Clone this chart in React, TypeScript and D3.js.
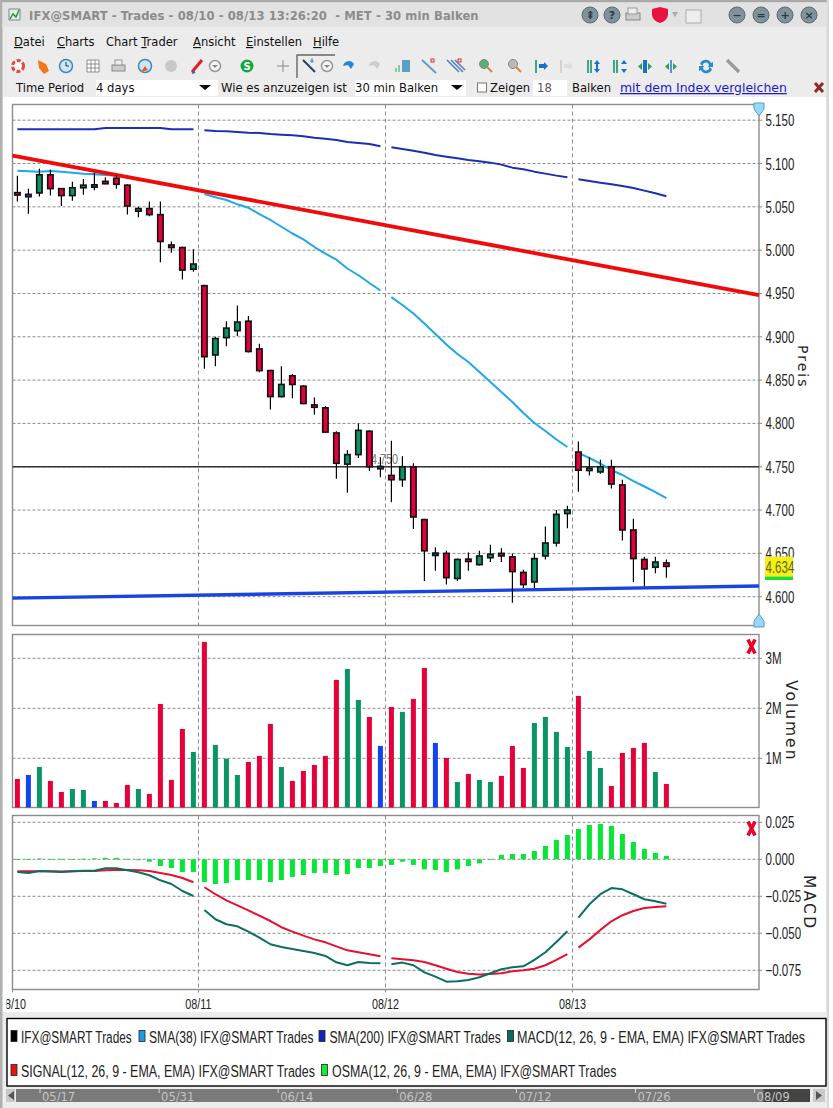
import React from "react";
import * as d3 from "d3";

// ---------- data ----------
const opens = [5.066,5.063,5.066,5.087,5.071,5.063,5.072,5.074,5.079,5.083,5.075,5.045,5.048,5.041,5.006,5.003,4.978,4.959,4.879,4.899,4.907,4.918,4.886,4.861,4.831,4.855,4.843,4.821,4.818,4.789,4.753,4.764,4.791,4.749,4.740,4.735,4.750,4.689,4.649,4.650,4.621,4.643,4.637,4.645,4.650,4.646,4.628,4.617,4.647,4.662,4.696,4.767,4.746,4.744,4.750,4.729,4.677,4.643,4.634,4.639];
const closes = [5.064,5.063,5.087,5.071,5.063,5.072,5.075,5.074,5.077,5.076,5.051,5.048,5.041,5.010,5.003,4.977,4.984,4.877,4.898,4.910,4.917,4.883,4.861,4.831,4.845,4.845,4.823,4.819,4.790,4.754,4.764,4.792,4.750,4.749,4.735,4.750,4.692,4.653,4.649,4.622,4.643,4.641,4.647,4.649,4.647,4.629,4.614,4.644,4.662,4.695,4.700,4.746,4.748,4.750,4.730,4.677,4.644,4.632,4.640,4.635];
const highs = [5.086,5.071,5.094,5.093,5.071,5.079,5.082,5.089,5.084,5.087,5.076,5.050,5.056,5.056,5.010,5.004,5.001,4.960,4.900,4.918,4.936,4.924,4.892,4.862,4.866,4.857,4.844,4.830,4.820,4.791,4.769,4.800,4.792,4.761,4.780,4.762,4.754,4.690,4.657,4.653,4.644,4.651,4.653,4.660,4.656,4.650,4.631,4.650,4.681,4.700,4.705,4.779,4.761,4.758,4.758,4.735,4.690,4.646,4.646,4.643];
const lows = [5.056,5.042,5.062,5.063,5.051,5.057,5.064,5.069,5.076,5.071,5.041,5.038,5.039,4.986,4.997,4.966,4.975,4.863,4.866,4.889,4.901,4.882,4.859,4.816,4.830,4.829,4.822,4.810,4.789,4.736,4.720,4.760,4.745,4.738,4.709,4.727,4.678,4.618,4.630,4.614,4.618,4.630,4.636,4.640,4.640,4.593,4.610,4.610,4.643,4.658,4.679,4.721,4.740,4.742,4.725,4.665,4.617,4.612,4.627,4.622];
const volumes = [.587,.667,.827,.547,.327,.387,.367,.147,.147,.107,.467,.387,.287,2.087,.567,1.587,1.127,3.327,1.267,.993,.667,.927,1.047,1.687,.827,.547,.747,.867,1.047,2.567,2.787,2.167,1.827,1.247,2.027,1.927,2.187,2.807,1.307,1.007,.527,.687,.567,.527,.647,1.247,.807,1.707,1.827,1.527,1.227,2.247,1.147,.807,.447,1.107,1.207,1.307,.727,.487];
const sma38 = [5.0917,5.0910,5.0905,5.0913,5.0905,5.0894,5.0882,5.0875,5.0867,5.0859,5.0844,5.0821,5.0798,5.0775,5.0752,5.0729,5.0706,5.0648,5.0610,5.0579,5.0529,5.0489,5.0417,5.0348,5.0270,5.0192,5.0125,5.0036,4.9959,4.9890,4.9788,4.9710,4.9621,4.9534,4.9457,4.9367,4.9269,4.9153,4.9032,4.8911,4.8801,4.8709,4.8594,4.8478,4.8363,4.8247,4.8120,4.8005,4.7912,4.7814,4.7728,4.7659,4.7601,4.7537,4.7462,4.7405,4.7335,4.7272,4.7208,4.7139];
const sma200 = [5.1394,5.1394,5.1394,5.1394,5.1394,5.1394,5.1394,5.1394,5.1410,5.1410,5.1410,5.1410,5.1410,5.1410,5.1394,5.1394,5.1394,5.1383,5.1375,5.1371,5.1364,5.1356,5.1352,5.134,5.1333,5.1325,5.1314,5.1298,5.1287,5.1271,5.1248,5.1237,5.1225,5.1198,5.1187,5.1167,5.1148,5.1125,5.1098,5.1079,5.106,5.1041,5.1025,5.101,5.0987,5.0952,5.0933,5.0906,5.0883,5.086,5.0841,5.0817,5.0798,5.0779,5.076,5.0740,5.0717,5.0687,5.0656,5.0621];
const macd = [-.0086,-.0092,-.0079,-.0083,-.0086,-.0081,-.0077,-.0077,-.0061,-.0061,-.0074,-.0088,-.0108,-.0142,-.0167,-.0214,-.0248,-.0342,-.0405,-.0439,-.0453,-.0489,-.0529,-.0574,-.0592,-.0606,-.0619,-.0633,-.0653,-.0696,-.0716,-.0694,-.0700,-.0703,-.0709,-.0698,-.0716,-.0764,-.0793,-.0827,-.0824,-.0815,-.0797,-.0770,-.0743,-.0730,-.0723,-.0680,-.0628,-.0559,-.0486,-.0394,-.0304,-.0236,-.0194,-.0203,-.0236,-.0270,-.0284,-.0300];
const signal = [-.0081,-.0081,-.0081,-.0081,-.0083,-.0081,-.0079,-.0079,-.0074,-.0072,-.0072,-.0074,-.0079,-.0092,-.0106,-.0126,-.0155,-.0189,-.0236,-.0277,-.0311,-.0345,-.0381,-.0417,-.0459,-.0489,-.0516,-.0541,-.0561,-.0588,-.0615,-.0628,-.0642,-.0655,-.0669,-.0676,-.0682,-.0694,-.0716,-.0739,-.0761,-.0773,-.0779,-.0775,-.0770,-.0757,-.0750,-.0739,-.0716,-.0680,-.0640,-.0597,-.0541,-.0477,-.0419,-.0378,-.0349,-.0329,-.0322,-.0318];
const osma = [.0002,.0002,.0005,.0001,.0003,.0001,.0004,.0006,.001,.001,.0001,-.0006,-.0016,-.0045,-.0059,-.0086,-.0086,-.0153,-.0167,-.016,-.014,-.014,-.014,-.0153,-.014,-.0119,-.0106,-.0092,-.0092,-.0106,-.0099,-.0059,-.0059,-.0045,-.0038,-.0016,-.0038,-.0068,-.0072,-.0086,-.0068,-.0045,-.0027,.0001,.0029,.0036,.0036,.0056,.009,.0131,.0164,.0205,.0232,.0239,.0225,.0171,.0117,.007,.0043,.0023];
const dayStarts = [0, 17, 34, 51];
const dayLabels = ["08/10", "08/11", "08/12", "08/13"];
const priceTicks = [5.15, 5.1, 5.05, 5.0, 4.95, 4.9, 4.85, 4.8, 4.75, 4.7, 4.65, 4.6];
const volTicks = [1, 2, 3];
const macdTicks = [0.025, 0, -0.025, -0.05, -0.075];
const redTrend = [5.1092, 4.9482];
const blueTrend = [4.5983, 4.6123];
const hLine = 4.75;
const lastPrice = 4.634;
const legendLabels = ["IFX@SMART Trades", "SMA(38) IFX@SMART Trades", "SMA(200) IFX@SMART Trades", "MACD(12, 26, 9 - EMA, EMA) IFX@SMART Trades", "SIGNAL(12, 26, 9 - EMA, EMA) IFX@SMART Trades", "OSMA(12, 26, 9 - EMA, EMA) IFX@SMART Trades"];
const scrollLabels = ["05/17", "05/31", "06/14", "06/28", "07/12", "07/26", "08/09"];

// ---------- layout ----------
const legendColours = ["#000000", "#1e9be8", "#1424c0", "#0a6a5c", "#ee1111", "#11ee33"];
const legendSwatchX = [11, 139, 319, 507.5, 11, 321.5];
const legendTextX = [21, 149, 329.5, 517, 21, 332];
const legendRow = [0, 0, 0, 0, 1, 1];
const legendScale = [0.696, 0.712, 0.713, 0.74, 0.732, 0.73];
const L = 12.5, R = 759;
const P = { t: 104.5, b: 625.5 }, V = { t: 634.5, b: 807.5 }, M = { t: 815.5, b: 989.5 };
const n = opens.length;
const x = d3.scaleLinear().domain([0, n - 1]).range([17.4, 666.4]);
const yP = d3.scaleLinear().domain([4.6, 5.1]).range([596.7, 163.5]);
const yV = d3.scaleLinear().domain([0, 3]).range([808.3, 658.3]);
const yM = d3.scaleLinear().domain([-0.075, 0.025]).range([970.3, 822.3]);
const dayX = dayStarts.map((s, k) => (k === 0 ? L : x(s - 0.54)));
const sans = "'Liberation Sans',sans-serif";
const ui = "'DejaVu Sans',sans-serif";
const RED = "#e6003a", GREEN = "#0b9464", BLUE = "#1144ee";
const colour = (i: number) => (closes[i] > opens[i] ? GREEN : closes[i] < opens[i] ? RED : BLUE);
const grid = "#8a8a8a";

function segments(vals: number[], y: (v: number) => number) {
  return dayStarts.map((s, k) => {
    const e = k + 1 < dayStarts.length ? dayStarts[k + 1] : n;
    const l = d3.line<number>().x((i) => x(i)).y((i) => y(vals[i]));
    return l(d3.range(s, e)) as string;
  });
}

const Seg = ({ vals, y, color, w = 2 }: any) => (
  <g fill="none" stroke={color} strokeWidth={w} strokeLinejoin="round">
    {segments(vals, y).map((d, i) => <path key={i} d={d} />)}
  </g>
);

const N = ({ x: tx, y: ty, size = 16, sx = 0.72, fill = "#222", anchor = "start", children }: any) => (
  <text transform={`translate(${tx},${ty}) scale(${sx},1)`} fontFamily={sans} fontSize={size} fill={fill} textAnchor={anchor}>{children}</text>
);

const RedX = ({ cx, cy }: { cx: number; cy: number }) => (
  <path d={`M${cx - 3.5},${cy - 7}L${cx + 3.5},${cy + 7}M${cx + 3.5},${cy - 7}L${cx - 3.5},${cy + 7}`} stroke="#e8002a" strokeWidth={3.6} />
);

const Panel = ({ t, b, ticks, y, fmt }: any) => (
  <g>
    {ticks.map((v: number) => (
      <g key={v}>
        <line x1={L} x2={R} y1={y(v)} y2={y(v)} stroke={grid} strokeWidth={1} strokeDasharray="3 2" />
        <line x1={R} x2={R + 3} y1={y(v)} y2={y(v)} stroke={grid} />
        <N x={765.5} y={y(v) + 6}>{fmt(v)}</N>
      </g>
    ))}
    {dayX.slice(1).map((dx, i) => (
      <line key={i} x1={dx} x2={dx} y1={t} y2={b} stroke={grid} strokeWidth={1} strokeDasharray="4 3" />
    ))}
    <rect x={L} y={t} width={R - L} height={b - t} fill="none" stroke="#8c8c8c" strokeWidth={1.4} />
  </g>
);

const Shield = ({ cx, top, down }: any) => (
  <path d={down
    ? `M${cx - 5},${top}h10v6l-5,7l-5,-7z`
    : `M${cx},${top}l5,7v6h-10v-6z`} fill="#9bd6f5" stroke="#4f9fd0" strokeWidth={1} />
);

const circleBtn = (cx: number, cy: number, g: string) => (
  <g key={cx}>
    <circle cx={cx} cy={cy} r={8} fill="#7f939c" stroke="#5c6b72" />
    <text x={cx} y={cy + 4} textAnchor="middle" fontFamily={ui} fontWeight="bold" fontSize={11} fill="#2f3a40">{g}</text>
  </g>
);

export default function App() {
  return (
    <svg width={833} height={1108} viewBox="0 0 833 1108" style={{ position: "absolute", left: 0, top: 0, display: "block" }}>
      <rect width={833} height={1108} fill="#ececec" />
      <rect x={0} y={0} width={833} height={2.5} fill="#a8a8a8" />
      <rect x={0} y={0} width={2.5} height={1108} fill="#b0b0b0" />
      <rect x={829} y={0} width={4} height={1108} fill="#ffffff" />
      <rect x={826.5} y={0} width={2.5} height={1108} fill="#d8d8d8" />
      <rect x={2.5} y={2.5} width={824} height={24} fill="#e2e2e2" />
      {/* title bar */}
      <path d="M9,20L9,9L20,9L20,20Z" fill="#dff0df" stroke="#789" />
      <path d="M10,19l3,-5l3,3l3,-7" fill="none" stroke="#2a8a4a" strokeWidth={1.4} />
      <text x={29} y={19.5} fontFamily={ui} fontWeight="bold" fontSize={11.6} letterSpacing={0.08} fill="#8c8c8c" style={{ whiteSpace: "pre" }}>{"IFX@SMART - Trades - 08/10 - 08/13 13:26:20  - MET - 30 min Balken"}</text>
      {circleBtn(590, 15, "⇞")}
      {circleBtn(612, 15, "?")}
      <rect x={626} y={13} width={14} height={7} fill="#ccc" stroke="#888" /><rect x={628} y={8} width={9} height={6} fill="#eee" stroke="#999" />
      <path d="M652,9l8,-2l8,2v6q-1,6 -8,8q-7,-2 -8,-8z" fill="#e8123f" />
      <path d="M672,12h6l-3,5z" fill="#aaa" />
      <rect x={686} y={10} width={15} height={13} fill="#eee" stroke="#aaa" />
      {circleBtn(737, 15, "−")}{circleBtn(761, 15, "=")}{circleBtn(785, 15, "+")}{circleBtn(809, 15, "×")}
      {/* menu */}
      <g fontFamily={ui} fontSize={11.5} fill="#111">
        <text x={14} y={46}><tspan textDecoration="underline">D</tspan>atei</text>
        <text x={57} y={46}><tspan textDecoration="underline">C</tspan>harts</text>
        <text x={106} y={46}>Chart <tspan textDecoration="underline">T</tspan>rader</text>
        <text x={193} y={46}><tspan textDecoration="underline">A</tspan>nsicht</text>
        <text x={246} y={46}><tspan textDecoration="underline">E</tspan>instellen</text>
        <text x={313} y={46}><tspan textDecoration="underline">H</tspan>ilfe</text>
      </g>
      {/* toolbar */}
      <g>
        <circle cx={18} cy={66} r={5.5} fill="#fff" stroke="#e8483a" strokeWidth={3} strokeDasharray="4 2" />
        <path d="M38,60l8,4l3,7l-5,3l-5,-6z" fill="#f07818" />
        <circle cx={66} cy={66} r={6.5} fill="#cfe6f5" stroke="#3b8ac0" strokeWidth={1.5} /><path d="M66,62v4h3" stroke="#234" fill="none" />
        <path d="M87,60h12v12h-12zM91,60v12M95,60v12M87,64h12M87,68h12" fill="#fff" stroke="#777" strokeWidth={0.8} />
        <rect x={112} y={65} width={13} height={6} fill="#ccc" stroke="#888" /><rect x={115} y={60} width={7} height={5} fill="#eee" stroke="#999" />
        <circle cx={145} cy={66} r={6.5} fill="#cfe6f5" stroke="#3b8ac0" strokeWidth={1.5} /><path d="M141,72l4,-6l3,4z" fill="#e85a20" />
        <circle cx={171} cy={66} r={6} fill="#c8c8c8" />
        <path d="M192,72l10,-12" stroke="#e02020" strokeWidth={3} /><path d="M192,73l3,-1" stroke="#3a60d0" strokeWidth={2} />
        <circle cx={215} cy={66} r={5.5} fill="#f6f6f6" stroke="#999" strokeWidth={1.5} /><path d="M212,65h6l-3,3z" fill="#888" />
        <circle cx={247} cy={66} r={6.5} fill="#12a83e" /><text x={247} y={70} textAnchor="middle" fontSize={10} fontWeight="bold" fill="#fff" fontFamily={ui}>S</text>
        <path d="M283,60v12M277,66h12" stroke="#888" strokeWidth={1} />
        <path d="M297,78v-23h38" fill="none" stroke="#666" strokeWidth={1.4} />
        <path d="M303,60l12,12" stroke="#2a4060" strokeWidth={2} /><path d="M312,58v5M310,61h4" stroke="#3a80d0" />
        <circle cx={327} cy={66} r={5.5} fill="#f6f6f6" stroke="#999" strokeWidth={1.5} /><path d="M324,65h6l-3,3z" fill="#888" />
        <path d="M343,66a6,6 0 0 1 11,-2l-3,5l-3,-4z" fill="#2a84d0" />
        <path d="M369,66a6,6 0 0 1 11,-2l-3,5l-3,-4z" fill="#ccc" />
        <path d="M396,72v-4M399,72v-7" stroke="#2aa060" /><rect x={402} y={60} width={8} height={12} fill="#5aa0c0" />
        <path d="M422,60l14,13" stroke="#5aa0d0" strokeWidth={2} /><rect x={431} y={59} width={3} height={3} fill="none" stroke="#d03030" />
        <path d="M447,60l12,12M451,60l12,12M455,60l10,10" stroke="#5a7fc0" strokeWidth={1.6} /><rect x={458} y={59} width={3} height={3} fill="none" stroke="#d03030" />
        <circle cx={484} cy={64} r={4.5} fill="#58b078" stroke="#888" /><path d="M487,67l5,5" stroke="#c88a40" strokeWidth={2} />
        <circle cx={513} cy={64} r={4.5} fill="#bbb" stroke="#888" /><path d="M516,67l5,5" stroke="#c88a40" strokeWidth={2} />
        <path d="M536,60v13" stroke="#1a9070" strokeWidth={1.6} /><path d="M539,64h5v-2l4,4l-4,4v-2h-5z" fill="#1a70c8" />
        <path d="M561,60v13" stroke="#ccc" strokeWidth={1.6} /><path d="M564,64h5v-2l4,4l-4,4v-2h-5z" fill="#ddd" />
        <path d="M588,60v13M591,60v13" stroke="#1a9070" strokeWidth={1.6} /><path d="M597,60l3,4h-2v5h2l-3,4l-3,-4h2v-5h-2z" fill="#1a70c8" />
        <path d="M614,60v13M617,60v13" stroke="#1a9070" strokeWidth={1.6} /><path d="M624,60l3,4h-6zM624,73l3,-4h-6z" fill="#1a70c8" />
        <rect x={643} y={60} width={4} height={13} fill="#1a70c8" /><path d="M642,63l-4,3.5l4,3.5zM648,63l4,3.5l-4,3.5z" fill="#2aa060" />
        <path d="M671,60v13" stroke="#1a70c8" strokeWidth={1.4} /><path d="M669,63l-4,3.5l4,3.5zM673,63l4,3.5l-4,3.5z" fill="#2aa060" />
        <path d="M700,64a6,6 0 0 1 11,-1l2,-1v5h-5l1,-2a3,3 0 0 0 -6,1zM712,69a6,6 0 0 1 -11,1l-2,1v-5h5l-1,2a3,3 0 0 0 6,-1z" fill="#2a8ad0" />
        <path d="M727,60l12,12" stroke="#9a9a9a" strokeWidth={3.4} />
      </g>
      {/* controls row */}
      <rect x={96} y={80} width={122} height={16} fill="#fff" />
      <rect x={355} y={80} width={111} height={16} fill="#fff" />
      <rect x={533} y={80} width={34} height={16} fill="#fff" />
      <g fontFamily={ui} fontSize={11.6} fill="#111">
        <text x={16} y={92}>Time Period</text>
        <text x={96} y={92}>4 days</text>
        <path d="M199,85h12l-6,5z" fill="#000" />
        <text x={221} y={92}>Wie es anzuzeigen ist</text>
        <text x={355} y={92}>30 min Balken</text>
        <path d="M451,85h12l-6,5z" fill="#000" />
        <rect x={477.5} y={83} width={9} height={9} fill="#fff" stroke="#777" />
        <text x={490} y={92}>Zeigen</text>
        <text x={537} y={92} fill="#555">18</text>
        <text x={572} y={92}>Balken</text>
        <text x={620} y={92} fontSize={12.45} fill="#1a1ac8" textDecoration="underline">mit dem Index vergleichen</text>
      </g>
      <path d="M815,83l8,9M823,83l-8,9" stroke="#8c2a28" strokeWidth={3} />
      {/* white chart background */}
      <rect x={3} y={97} width={823} height={915} fill="#fff" />

      {/* price panel */}
      <Panel t={P.t} b={P.b} ticks={priceTicks} y={yP} fmt={(v: number) => v.toFixed(3)} />
      <line x1={L} x2={R} y1={yP(hLine)} y2={yP(hLine)} stroke="#333" strokeWidth={1.4} />
      <N x={371} y={463.5} size={15} fill="#777">4.750</N>
      <Seg vals={sma200} y={yP} color="#1a2fb4" />
      <Seg vals={sma38} y={yP} color="#1ca8ea" />
      <line x1={L} x2={R} y1={yP(redTrend[0])} y2={yP(redTrend[1])} stroke="#f00a0a" strokeWidth={3.8} />
      <line x1={L} x2={R} y1={yP(blueTrend[0])} y2={yP(blueTrend[1])} stroke="#1a44e0" strokeWidth={3.4} />
      {opens.map((o, i) => {
        const top = yP(Math.max(o, closes[i]));
        const bot = yP(Math.min(o, closes[i]));
        const h = Math.max(bot - top, 2.4);
        const yy = (top + bot) / 2 - h / 2;
        return (
          <g key={i}>
            <line x1={x(i)} x2={x(i)} y1={yP(highs[i])} y2={yP(lows[i])} stroke="#000" strokeWidth={1.2} />
            <rect x={x(i) - 2.7} y={yy} width={5.4} height={h} fill={colour(i)} stroke="#111" strokeWidth={1.6} />
          </g>
        );
      })}
      <rect x={765} y={556.5} width={28} height={20} fill="#f6ee1a" />
      <rect x={765} y={576.5} width={28} height={3.5} fill="#22dd22" />
      <N x={765.5} y={572.5} fill="#5f6a10">{lastPrice.toFixed(3)}</N>
      <Shield cx={759} top={103} down />
      <Shield cx={759} top={614} />
      <text transform="translate(798,345) rotate(90)" fontFamily={ui} fontSize={14} letterSpacing={2} fill="#222">Preis</text>

      {/* volume panel */}
      <Panel t={V.t} b={V.b} ticks={volTicks} y={yV} fmt={(v: number) => `${v}M`} />
      {volumes.map((v, i) => (
        <rect key={i} x={x(i) - 2.5} y={yV(v)} width={5} height={V.b - yV(v)} fill={colour(i)} />
      ))}
      <RedX cx={751.5} cy={646.5} />
      <text transform="translate(786,680) rotate(90)" fontFamily={ui} fontSize={15.5} letterSpacing={2} fill="#222">Volumen</text>

      {/* MACD panel */}
      <Panel t={M.t} b={M.b} ticks={macdTicks} y={yM} fmt={(v: number) => (v < 0 ? `\u2212${(-v).toFixed(3)}` : v.toFixed(3))} />
      {osma.map((v, i) => (
        <rect key={i} x={x(i) - 2.5} y={Math.min(yM(v), yM(0))} width={5} height={Math.max(Math.abs(yM(v) - yM(0)), 0.8)} fill="#07e636" />
      ))}
      <Seg vals={signal} y={yM} color="#e80f2c" />
      <Seg vals={macd} y={yM} color="#0a6f62" />
      <RedX cx={751.5} cy={828.5} />
      <text transform="translate(804,875) rotate(90)" fontFamily={ui} fontSize={15.5} letterSpacing={2.2} fill="#222">MACD</text>
      {dayX.map((dx, i) => (
        <g key={i}>
          <line x1={dx} x2={dx} y1={M.b} y2={M.b + 3} stroke={grid} />
          <N x={dx} y={1009} size={15} anchor="middle">{dayLabels[i]}</N>
        </g>
      ))}
      <rect x={0} y={990} width={6.5} height={30} fill="#fff" />
      <rect x={0} y={990} width={2.5} height={30} fill="#b0b0b0" />

      {/* legend */}
      <rect x={0} y={1012} width={827} height={96} fill="#ececec" />
      <rect x={0} y={1012} width={2.5} height={96} fill="#b0b0b0" />
      <rect x={7} y={1018.5} width={819} height={67.5} fill="#fff" stroke="#000" strokeWidth={1.4} />
      {legendLabels.map((label, k) => (
        <g key={label}>
          <rect x={legendSwatchX[k]} y={1030.5 + legendRow[k] * 34} width={6} height={11} fill={legendColours[k]} stroke="#222" strokeWidth={0.8} />
          <N x={legendTextX[k]} y={1043 + legendRow[k] * 34} size={17} sx={legendScale[k]}>{label}</N>
        </g>
      ))}

      {/* scrollbar */}
      <rect x={16} y={1089} width={794} height={13} fill="#7a7a7a" />
      <rect x={763.5} y={1089} width={46.5} height={13} fill="#444" />
      <rect x={6} y={1089} width={9} height={13} fill="#c8c8c8" />
      <path d="M14,1091v9l-6,-4.5z" fill="#555" />
      <rect x={813} y={1089} width={12} height={13} fill="#c8c8c8" />
      <path d="M816,1091v9l6,-4.5z" fill="#555" />
      {scrollLabels.map((s, i) => (
        <g key={s}>
          <line x1={40 + i * 119.1} x2={40 + i * 119.1} y1={1089} y2={1093} stroke="#ddd" />
          <text x={42 + i * 119.1} y={1100.5} fontFamily={ui} fontSize={11.5} fill="#c4c4c4">{s}</text>
        </g>
      ))}
    </svg>
  );
}
